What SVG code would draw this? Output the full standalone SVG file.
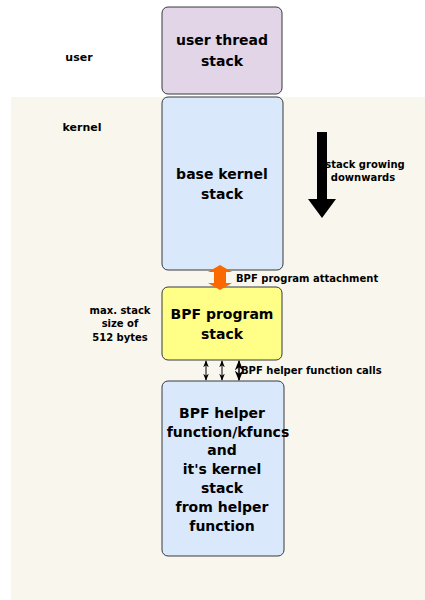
<svg xmlns="http://www.w3.org/2000/svg" width="425" height="600" viewBox="0 0 425 600">
<defs>
<style>
.t{font-family:"DejaVu Sans","Liberation Sans",sans-serif;font-weight:bold;fill:#000;}
.big{font-size:14px;text-anchor:middle;}
.sm{font-size:10px;}
.box{stroke:#36393d;stroke-width:1;}
</style>
<marker id="ah" viewBox="0 0 10 10" refX="9" refY="5" markerWidth="7" markerHeight="7" orient="auto-start-reverse">
<path d="M0,1 L10,5 L0,9 L3,5 Z" fill="#000"/>
</marker>
</defs>
<rect width="425" height="600" fill="#ffffff"/>
<rect id="kernel-region" x="11" y="97" width="414" height="503" fill="#f9f7ed"/>
<text class="t" x="79" y="61" font-size="11" text-anchor="middle">user</text>
<text class="t" x="82" y="131" font-size="11" text-anchor="middle">kernel</text>

<g id="user-stack">
<rect class="box" x="162" y="7" width="120" height="87" rx="6" fill="#e1d5e7"/>
<text class="t big" x="222" y="45">user thread</text>
<text class="t big" x="222" y="66">stack</text>
</g>
<g id="base-kernel-stack">
<rect class="box" x="162" y="97" width="121" height="173" rx="6" fill="#dae8fc"/>
<text class="t big" x="222" y="179">base kernel</text>
<text class="t big" x="222" y="199">stack</text>
</g>
<g id="bpf-stack">
<rect class="box" x="162" y="287" width="120" height="73" rx="6" fill="#ffff88"/>
<text class="t big" x="222" y="319">BPF program</text>
<text class="t big" x="222" y="339">stack</text>
</g>
<g id="helper-stack">
<rect class="box" x="162" y="381" width="122" height="175" rx="6" fill="#dae8fc"/>
<text class="t big" x="222" y="418">BPF helper</text>
<text class="t big" x="228" y="437">function/kfuncs</text>
<text class="t big" x="222" y="455">and</text>
<text class="t big" x="222" y="474">it's kernel</text>
<text class="t big" x="222" y="493">stack</text>
<text class="t big" x="222" y="512">from helper</text>
<text class="t big" x="222" y="531">function</text>
</g>
<g id="max-stack-label">
<text class="t sm" x="120" y="314" text-anchor="middle">max. stack</text>
<text class="t sm" x="120" y="327" text-anchor="middle">size of</text>
<text class="t sm" x="120" y="341" text-anchor="middle">512 bytes</text>
</g>
<g id="growth-arrow">
<polygon points="317,132 327,132 327,199 336,199 322,218 308,199 317,199" fill="#000"/>
<text class="t sm" x="365" y="168" text-anchor="middle">stack growing</text>
<text class="t sm" x="363" y="181" text-anchor="middle">downwards</text>
</g>
<g id="connectors">
<polygon points="220,265 232,272 226,272 226,283 232,283 220,290 208,283 214,283 214,272 208,272" fill="#fa6800"/>
<text class="t sm" x="236" y="282">BPF program attachment</text>
<line x1="206" y1="361" x2="206" y2="380" stroke="#000" stroke-width="1" marker-start="url(#ah)" marker-end="url(#ah)"/>
<line x1="222" y1="361" x2="222" y2="380" stroke="#000" stroke-width="1" marker-start="url(#ah)" marker-end="url(#ah)"/>
<line x1="239" y1="361" x2="239" y2="380" stroke="#000" stroke-width="1.5" marker-start="url(#ah)" marker-end="url(#ah)"/>
<text class="t sm" x="241" y="374">BPF helper function calls</text>
</g>
</svg>
